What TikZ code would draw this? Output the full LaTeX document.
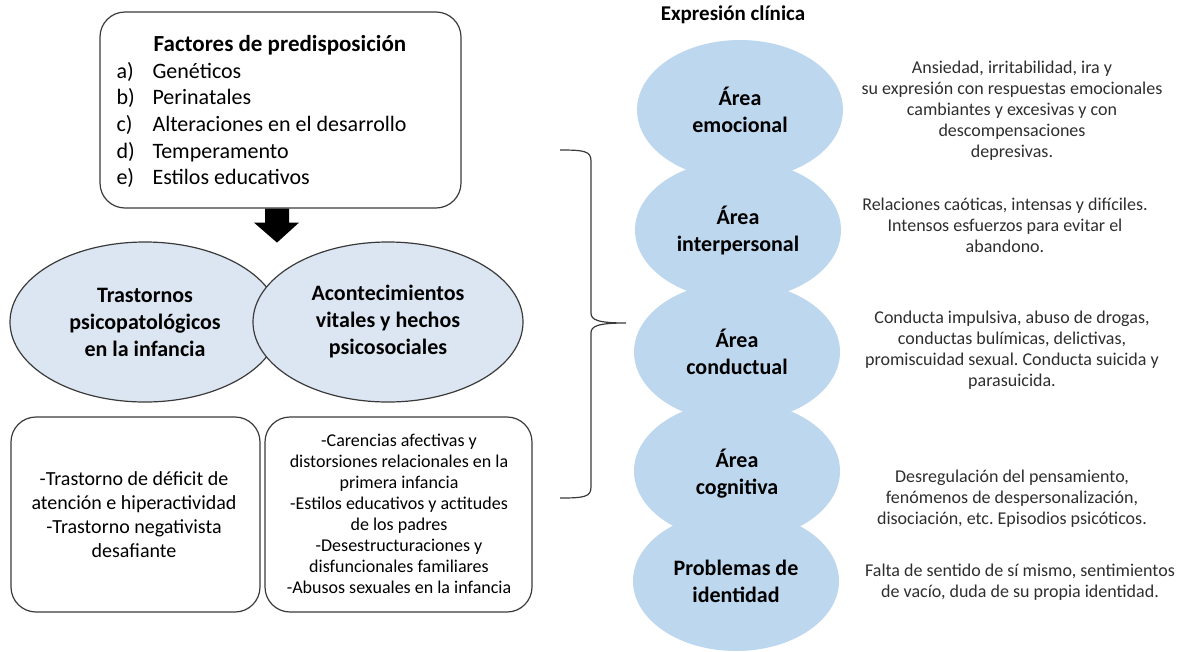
\documentclass[tikz,border=0pt]{standalone}
\usepackage{fontspec}
\setmainfont{Carlito}
\frenchspacing
\usetikzlibrary{shapes.geometric}
\definecolor{ellfill}{HTML}{DCE6F2}
\definecolor{circfill}{HTML}{BDD7EE}
\definecolor{desc}{HTML}{2E2E2E}
\definecolor{edgec}{HTML}{3A3A3A}
\begin{document}
\begin{tikzpicture}[x=1pt,y=-1pt,
  rbox/.style={draw=edgec, line width=1.2pt, rounded corners=25pt, inner sep=0pt},
  oval/.style={ellipse, draw=edgec, line width=1.2pt, fill=ellfill, minimum width=270pt, minimum height=160pt, inner sep=0pt},
  area/.style={ellipse, fill=circfill, minimum width=206pt, minimum height=140pt, inner sep=0pt},
  lbl/.style={align=center, font=\fontsize{22}{27}\selectfont\bfseries},
  boxtext/.style={align=center, font=\fontsize{20}{24}\selectfont},
  boxtextb/.style={align=center, font=\fontsize{18}{21}\selectfont},
  dtext/.style={align=center, text=desc, font=\fontsize{18}{21}\selectfont},
]
\useasboundingbox (0,0) rectangle (1183,651);

% top box
\node[rbox, minimum width=361pt, minimum height=196pt] (pre) at (280.5,110) {};
\node[font=\fontsize{23}{27}\selectfont\bfseries] (pretitle) at (280,45) {Factores de predisposición};
\node[anchor=west, align=left, font=\fontsize{22}{26.7}\selectfont] (prelist) at (113,125)
  {\makebox[36pt][l]{a)}Genéticos\\
   \makebox[36pt][l]{b)}Perinatales\\
   \makebox[36pt][l]{c)}Alteraciones en el desarrollo\\
   \makebox[36pt][l]{d)}Temperamento\\
   \makebox[36pt][l]{e)}Estilos educativos};

% thick arrow
\fill[black] ([xshift=-15.5pt]pre.south) -- ++(24,0) -- ++(0,14) -- ++(10,0) -- ++(-22,20) -- ++(-23,-20) -- ++(11,0) -- cycle;

% ellipses
\node[oval, lbl] (tr) at (145,322) {Trastornos\\psicopatológicos\\en la infancia};
\node[oval, lbl] (ac) at (388,322) {Acontecimientos\\vitales y hechos\\psicosociales};

% bottom boxes
\node[rbox, minimum width=249pt, minimum height=195pt] (bl) at (135.5,514.5) {};
\node[boxtext] (bltext) at (134,515) {-Trastorno de déficit de\\atención e hiperactividad\\-Trastorno negativista\\desafiante};
\node[rbox, minimum width=267pt, minimum height=195pt] (br) at (398.5,514.5) {};
\node[boxtextb] (brtext) at (399,514) {-Carencias afectivas y\\distorsiones relacionales en la\\primera infancia\\-Estilos educativos y actitudes\\de los padres\\-Desestructuraciones y\\disfuncionales familiares\\-Abusos sexuales en la infancia};

% brace
\draw[edgec, line width=1.2pt] (560,150) .. controls (584,150) and (591,151) .. (591,161) -- (591,313)
  .. controls (591,320) and (598,323) .. (626,323)
  .. controls (598,323) and (591,326) .. (591,333) -- (591,487)
  .. controls (591,497) and (584,498) .. (560,498);

% right column
\node[font=\fontsize{21}{25}\selectfont\bfseries] (expr) at (733,15) {Expresión clínica};
\node[area] (c1) at (740,110) {};
\node[area] (c2) at (738,230) {};
\node[area] (c3) at (737,352) {};
\node[area] (c4) at (737,471) {};
\node[area] (c5) at (736,581) {};
\node[lbl] (l1) at (c1) {Área\\emocional};
\node[lbl] (l2) at (c2) {Área\\interpersonal};
\node[lbl] (l3) at (c3) {Área\\conductual};
\node[lbl] (l4) at ([yshift=-3pt]c4) {Área\\cognitiva};
\node[lbl] (l5) at (c5) {Problemas de\\identidad};

\node[dtext] (d1) at (1012,110.5) {Ansiedad, irritabilidad, ira y\\su expresión con respuestas emocionales\\cambiantes y excesivas y con\\descompensaciones\\depresivas.};
\node[dtext] (d2) at (1005,225) {Relaciones caóticas, intensas y difíciles.\\Intensos esfuerzos para evitar el\\abandono.};
\node[dtext] (d3) at (1012,350) {Conducta impulsiva, abuso de drogas,\\conductas bulímicas, delictivas,\\promiscuidad sexual. Conducta suicida y\\parasuicida.};
\node[dtext] (d4) at (1012,499) {Desregulación del pensamiento,\\fenómenos de despersonalización,\\disociación, etc. Episodios psicóticos.};
\node[dtext] (d5) at (1020,582) {Falta de sentido de sí mismo, sentimientos\\de vacío, duda de su propia identidad.};
\end{tikzpicture}
\end{document}
